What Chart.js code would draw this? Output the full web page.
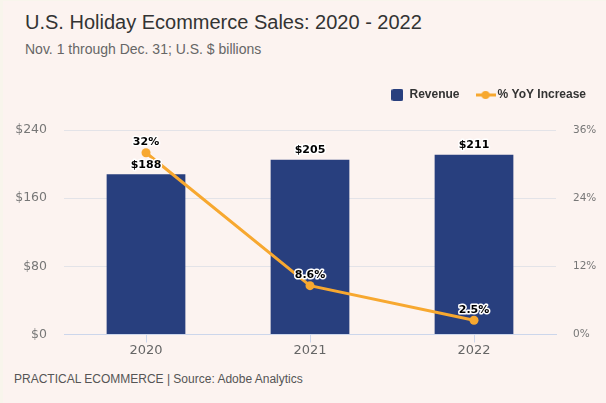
<!DOCTYPE html>
<html>
<head>
<meta charset="utf-8">
<script src="https://cdn.jsdelivr.net/npm/chart.js@4"></script>
<style>
html,body{margin:0;padding:0;}
body{width:606px;height:403px;background:#f8f5ec;position:relative;overflow:hidden;}
#frame{position:absolute;left:3px;top:1px;width:603px;height:402px;background:#fcf3f0;}
.t{position:absolute;font-family:"Liberation Sans",Arial,sans-serif;white-space:nowrap;}
#title{left:25px;top:11px;font-size:20px;color:#333;}
#sub{left:25px;top:41px;font-size:14px;color:#666;}
#foot{left:14px;top:372px;font-size:12px;color:#555;}
#wrap{position:absolute;left:0;top:69px;width:606px;height:290px;}
</style>
</head>
<body>
<div id="frame"></div>
<div class="t" id="title">U.S. Holiday Ecommerce Sales: 2020 - 2022</div>
<div class="t" id="sub">Nov. 1 through Dec. 31; U.S. $ billions</div>
<div class="t" id="foot">PRACTICAL ECOMMERCE | Source: Adobe Analytics</div>
<div id="wrap"><canvas id="c" width="606" height="290"></canvas></div>
<script>
const categories = ["2020", "2021", "2022"];
const revenue = [188, 205, 211];
const yoyIncrease = [32, 8.6, 2.5];
const revenueLabels = ["$188", "$205", "$211"];
const yoyLabels = ["32%", "8.6%", "2.5%"];

const BAR_COLOR = '#283f7e';
const LINE_COLOR = '#f7a830';

function squareIcon() {
  const c = document.createElement('canvas');
  c.width = 12; c.height = 12;
  const x = c.getContext('2d');
  x.fillStyle = BAR_COLOR;
  x.beginPath();
  if (x.roundRect) x.roundRect(0, 0, 12, 12, 2); else x.rect(0, 0, 12, 12);
  x.fill();
  return c;
}
function lineIcon() {
  const c = document.createElement('canvas');
  c.width = 20; c.height = 10;
  const x = c.getContext('2d');
  x.strokeStyle = LINE_COLOR;
  x.lineWidth = 3;
  x.beginPath(); x.moveTo(0, 5); x.lineTo(20, 5); x.stroke();
  x.fillStyle = LINE_COLOR;
  x.beginPath(); x.arc(10, 5, 4, 0, Math.PI * 2); x.fill();
  return c;
}
const sqImg = squareIcon();
const lnImg = lineIcon();

const legendHeightPlugin = {
  id: 'legendHeight',
  beforeInit(chart) {
    const lg = chart.legend;
    const orig = lg.fit;
    lg.fit = function () { orig.call(this); this.height = 61; };
  }
};

const labelPlugin = {
  id: 'dl',
  afterDatasetsDraw(chart) {
    const ctx = chart.ctx;
    ctx.save();
    ctx.font = 'bold 11px "DejaVu Sans", sans-serif';
    ctx.textAlign = 'center';
    ctx.textBaseline = 'bottom';
    ctx.lineJoin = 'round';
    const draw = (dsIndex, labels, off) => {
      chart.getDatasetMeta(dsIndex).data.forEach((el, i) => {
        const x = el.x, y = el.y - off;
        ctx.strokeStyle = '#ffffff';
        ctx.lineWidth = 3;
        ctx.strokeText(labels[i], x, y);
        ctx.fillStyle = '#000000';
        ctx.fillText(labels[i], x, y);
      });
    };
    draw(1, revenueLabels, 4);
    draw(0, yoyLabels, 5);
    ctx.restore();
  }
};

new Chart(document.getElementById('c'), {
  data: {
    labels: categories,
    datasets: [
      {
        type: 'line',
        label: '% YoY Increase',
        data: yoyIncrease,
        yAxisID: 'y1',
        borderColor: LINE_COLOR,
        backgroundColor: LINE_COLOR,
        borderWidth: 3,
        pointRadius: 4.5,
        pointBackgroundColor: LINE_COLOR,
        pointBorderWidth: 0,
        tension: 0,
        order: 0
      },
      {
        type: 'bar',
        label: 'Revenue',
        data: revenue,
        yAxisID: 'y',
        backgroundColor: BAR_COLOR,
        barPercentage: 0.6,
        categoryPercentage: 0.8,
        order: 1
      }
    ]
  },
  options: {
    responsive: false,
    animation: false,
    devicePixelRatio: 1,
    layout: { padding: { left: 0, right: 0, top: 0, bottom: 0 } },
    plugins: {
      legend: {
        position: 'top',
        align: 'end',
        reverse: true,
        labels: {
          font: { family: '"Liberation Sans", Arial, sans-serif', size: 12, weight: 'bold' },
          color: '#333',
          boxWidth: 12,
          boxHeight: 12,
          padding: 20,
          usePointStyle: true,
          generateLabels(chart) {
            const items = Chart.defaults.plugins.legend.labels.generateLabels(chart);
            items.forEach(it => {
              it.pointStyle = it.datasetIndex === 0 ? lnImg : sqImg;
            });
            return items;
          }
        }
      },
      tooltip: { enabled: false }
    },
    scales: {
      x: {
        grid: { display: true, drawOnChartArea: false, drawTicks: true, tickLength: 8, color: '#ccd6eb', offset: false },
        border: { display: true, color: '#ccd6eb' },
        ticks: { color: '#666', font: { family: '"DejaVu Sans", sans-serif', size: 13 }, padding: 0 }
      },
      y: {
        position: 'left',
        min: 0, max: 240,
        afterFit(s) { s.width = 64; },
        ticks: { stepSize: 80, color: '#777', font: { family: '"DejaVu Sans", sans-serif', size: 12.5 }, padding: 17,
          callback: v => '$' + v },
        grid: { color: '#e3e3e8', drawTicks: false },
        border: { display: false }
      },
      y1: {
        position: 'right',
        min: 0, max: 36,
        afterFit(s) { s.width = 50; },
        ticks: { stepSize: 12, color: '#777', font: { family: '"DejaVu Sans", sans-serif', size: 10.5 }, padding: 17,
          callback: v => v + '%' },
        grid: { display: false, drawTicks: false },
        border: { display: false }
      }
    }
  },
  plugins: [legendHeightPlugin, labelPlugin]
});
</script>
</body>
</html>
